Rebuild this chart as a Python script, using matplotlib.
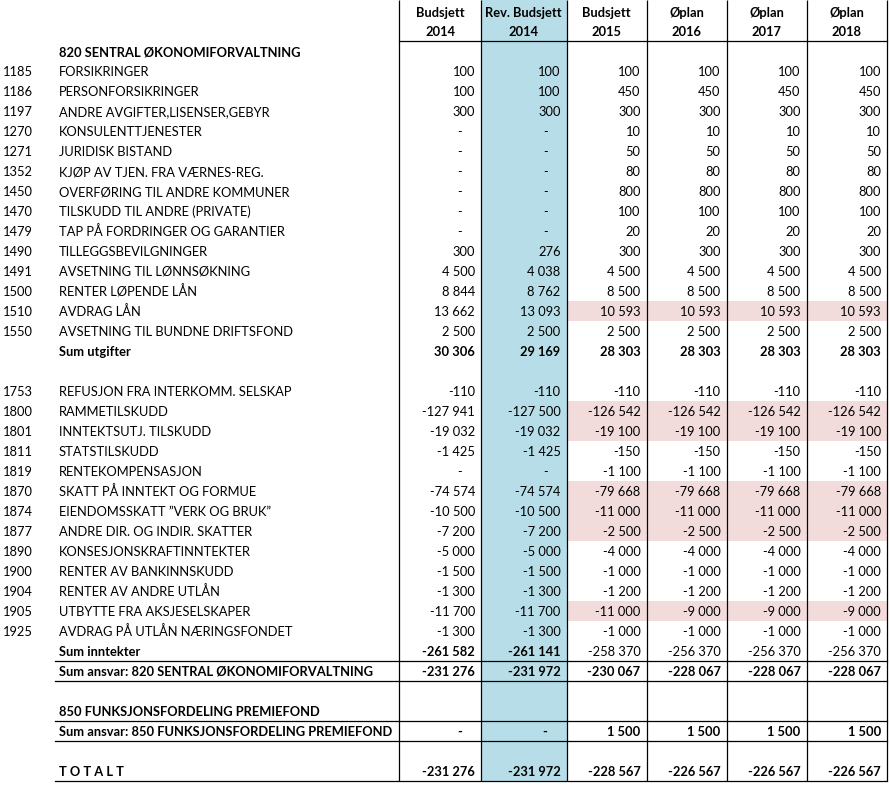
import matplotlib
matplotlib.use("Agg")
import matplotlib.pyplot as plt
from matplotlib.patches import Rectangle

plt.rcParams['font.family'] = ['Lato', 'DejaVu Sans']

# ---------------- data ----------------
headers_top = ["Budsjett", "Rev. Budsjett", "Budsjett", "Øplan", "Øplan", "Øplan"]
headers_bottom = ["2014", "2014", "2015", "2016", "2017", "2018"]

codes = ["", "1185", "1186", "1197", "1270", "1271", "1352", "1450", "1470", "1479",
         "1490", "1491", "1500", "1510", "1550", "", "",
         "1753", "1800", "1801", "1811", "1819", "1870", "1874", "1877", "1890",
         "1900", "1904", "1905", "1925", "", "", "", "", "", "", ""]

labels = ["820 SENTRAL ØKONOMIFORVALTNING", "FORSIKRINGER", "PERSONFORSIKRINGER",
          "ANDRE AVGIFTER,LISENSER,GEBYR", "KONSULENTTJENESTER", "JURIDISK BISTAND",
          "KJØP AV TJEN. FRA VÆRNES-REG.", "OVERFØRING TIL ANDRE KOMMUNER",
          "TILSKUDD TIL ANDRE (PRIVATE)", "TAP PÅ FORDRINGER OG GARANTIER",
          "TILLEGGSBEVILGNINGER", "AVSETNING TIL LØNNSØKNING", "RENTER LØPENDE LÅN",
          "AVDRAG LÅN", "AVSETNING TIL BUNDNE DRIFTSFOND", "Sum utgifter", "",
          "REFUSJON FRA INTERKOMM. SELSKAP", "RAMMETILSKUDD", "INNTEKTSUTJ. TILSKUDD",
          "STATSTILSKUDD", "RENTEKOMPENSASJON", "SKATT PÅ INNTEKT OG FORMUE",
          "EIENDOMSSKATT \u201dVERK OG BRUK\u201d", "ANDRE DIR. OG INDIR. SKATTER",
          "KONSESJONSKRAFTINNTEKTER", "RENTER AV BANKINNSKUDD", "RENTER AV ANDRE UTLÅN",
          "UTBYTTE FRA AKSJESELSKAPER", "AVDRAG PÅ UTLÅN NÆRINGSFONDET",
          "Sum inntekter", "Sum ansvar: 820 SENTRAL ØKONOMIFORVALTNING", "",
          "850 FUNKSJONSFORDELING PREMIEFOND", "Sum ansvar: 850 FUNKSJONSFORDELING PREMIEFOND",
          "", "T O T A L T"]

budsjett_2014 = [None, 100, 100, 300, 0, 0, 0, 0, 0, 0, 300, 4500, 8844, 13662, 2500, 30306, None,
                 -110, -127941, -19032, -1425, 0, -74574, -10500, -7200, -5000, -1500, -1300,
                 -11700, -1300, -261582, -231276, None, None, 0, None, -231276]
rev_budsjett_2014 = [None, 100, 100, 300, 0, 0, 0, 0, 0, 0, 276, 4038, 8762, 13093, 2500, 29169, None,
                     -110, -127500, -19032, -1425, 0, -74574, -10500, -7200, -5000, -1500, -1300,
                     -11700, -1300, -261141, -231972, None, None, 0, None, -231972]
budsjett_2015 = [None, 100, 450, 300, 10, 50, 80, 800, 100, 20, 300, 4500, 8500, 10593, 2500, 28303, None,
                 -110, -126542, -19100, -150, -1100, -79668, -11000, -2500, -4000, -1000, -1200,
                 -11000, -1000, -258370, -230067, None, None, 1500, None, -228567]
oplan_2016 = [None, 100, 450, 300, 10, 50, 80, 800, 100, 20, 300, 4500, 8500, 10593, 2500, 28303, None,
              -110, -126542, -19100, -150, -1100, -79668, -11000, -2500, -4000, -1000, -1200,
              -9000, -1000, -256370, -228067, None, None, 1500, None, -226567]
oplan_2017 = [None, 100, 450, 300, 10, 50, 80, 800, 100, 20, 300, 4500, 8500, 10593, 2500, 28303, None,
              -110, -126542, -19100, -150, -1100, -79668, -11000, -2500, -4000, -1000, -1200,
              -9000, -1000, -256370, -228067, None, None, 1500, None, -226567]
oplan_2018 = [None, 100, 450, 300, 10, 50, 80, 800, 100, 20, 300, 4500, 8500, 10593, 2500, 28303, None,
              -110, -126542, -19100, -150, -1100, -79668, -11000, -2500, -4000, -1000, -1200,
              -9000, -1000, -256370, -228067, None, None, 1500, None, -226567]

columns = [budsjett_2014, rev_budsjett_2014, budsjett_2015, oplan_2016, oplan_2017, oplan_2018]

# ---------------- styling ----------------
bold_label_rows = {0, 15, 30, 31, 33, 34, 36}
bold_value_rows = {15, 31, 34, 36}
bold_partial_rows = {30: {0, 1}}          # Sum inntekter: only first two columns bold
highlight_rows = {13, 18, 19, 22, 23, 24, 28}
rule_rows = [30, 31, 33, 34, 36]          # rows with a rule beneath
BLUE = "#B7DEE8"
PINK = "#F2DCDB"
TXT = "#000000"
FS = 9.3

W, H = 890, 789
fig = plt.figure(figsize=(W / 100, H / 100), dpi=100)
ax = fig.add_axes([0, 0, 1, 1])
ax.set_xlim(0, W)
ax.set_ylim(H, 0)
ax.axis("off")

col_edges = [399, 481, 566.5, 646.5, 726.5, 806.5, 887]
header_bottom = 41
row_h = 20
n_rows = len(labels)
table_bottom = header_bottom + row_h * n_rows  # 781
DY = 1.0


def fmt(v):
    s = f"{abs(v):,}".replace(",", " ")
    return ("-" if v < 0 else "") + s


# backgrounds
ax.add_patch(Rectangle((col_edges[1], 0), col_edges[2] - col_edges[1], table_bottom,
                       facecolor=BLUE, edgecolor="none", zorder=0))
for r in highlight_rows:
    ax.add_patch(Rectangle((col_edges[2], header_bottom + r * row_h),
                           col_edges[-1] - col_edges[2], row_h,
                           facecolor=PINK, edgecolor="none", zorder=0))

# lines
LW = 0.9
for x in col_edges:
    ax.plot([x, x], [0, table_bottom], color="black", lw=LW, zorder=2, solid_capstyle="butt")
ax.plot([col_edges[0], col_edges[-1]], [header_bottom, header_bottom], color="black", lw=LW, zorder=2)
for r in rule_rows:
    y = header_bottom + (r + 1) * row_h
    ax.plot([55, col_edges[-1]], [y, y], color="black", lw=LW, zorder=2)

# headers
for i in range(6):
    cx = (col_edges[i] + col_edges[i + 1]) / 2
    ax.text(cx, 12 + DY, headers_top[i], ha="center", va="center", fontsize=FS,
            fontweight="bold", color=TXT, zorder=3)
    ax.text(cx, 31 + DY, headers_bottom[i], ha="center", va="center", fontsize=FS,
            fontweight="bold", color=TXT, zorder=3)

# rows
for r in range(n_rows):
    yc = header_bottom + r * row_h + row_h / 2 + DY
    if codes[r]:
        ax.text(3, yc, codes[r], ha="left", va="center", fontsize=FS, color=TXT, zorder=3)
    if labels[r]:
        ax.text(59, yc, labels[r], ha="left", va="center", fontsize=FS, color=TXT,
                fontweight="bold" if r in bold_label_rows else "normal", zorder=3)
    for c, col in enumerate(columns):
        v = col[r]
        if v is None:
            continue
        bold = r in bold_value_rows or (r in bold_partial_rows and c in bold_partial_rows[r])
        right = col_edges[c + 1] - 6
        if v == 0:
            ax.text(right - 13, yc, "-", ha="right", va="center", fontsize=FS, color=TXT,
                    fontweight="bold" if bold else "normal", zorder=3)
        else:
            ax.text(right, yc, fmt(v), ha="right", va="center", fontsize=FS, color=TXT,
                    fontweight="bold" if bold else "normal", zorder=3)

fig.savefig("out.png", dpi=100, facecolor="white")
